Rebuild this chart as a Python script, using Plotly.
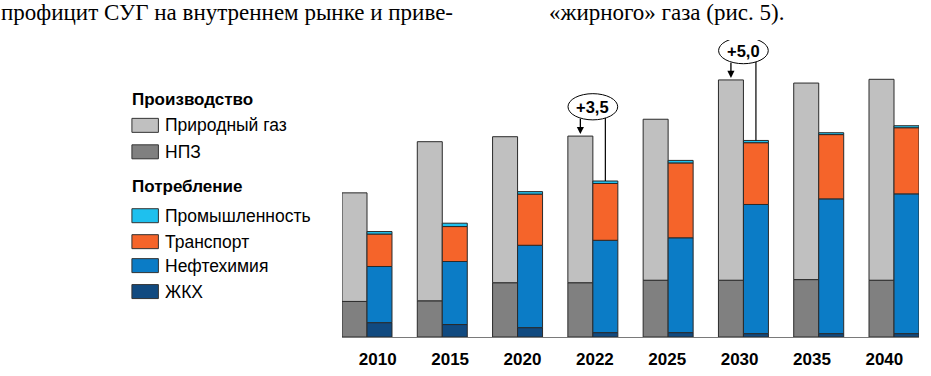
import plotly.graph_objects as go

# ---------------- data ----------------
years = ["2010", "2015", "2020", "2022", "2025", "2030", "2035", "2040"]

# Производство
natural_gas = [8.7, 12.75, 11.7, 11.75, 12.9, 16.05, 15.75, 16.1]
npz = [2.85, 2.9, 4.35, 4.35, 4.55, 4.55, 4.6, 4.55]

# Потребление
zhkh = [1.15, 1.0, 0.75, 0.35, 0.35, 0.27, 0.27, 0.27]
petrochem = [4.5, 5.05, 6.6, 7.4, 7.6, 10.35, 10.8, 11.2]
transport = [2.6, 2.8, 4.1, 4.55, 6.0, 4.95, 5.15, 5.3]
industry = [0.2, 0.27, 0.2, 0.2, 0.2, 0.18, 0.15, 0.16]

surplus_years = ["2022", "2030"]
surplus_labels = ["+3,5", "+5,0"]

top_text_left = "профицит СУГ на внутреннем рынке и приве-"
top_text_right = "«жирного» газа (рис. 5)."

# ---------------- styling ----------------
C_GAS = "#c0c0c0"
C_NPZ = "#808080"
C_IND = "#1ec0ee"
C_TRA = "#f5642a"
C_PET = "#0b7cc6"
C_ZHK = "#114a80"
OUTLINE = "#2a2a2a"
SANS = "Liberation Sans, Arial, sans-serif"
SERIF = "Liberation Serif, Times New Roman, serif"

W, H = 931, 376
L, R, T, B = 341.7, 12, 40, 38.5
PW, PH = W - L - R, H - T - B
BW = 0.332           # bar width in category units
PX_PER_UNIT = 12.5
Y_MAX = PH / PX_PER_UNIT


def px(x):
    return (x - L) / PW


def py(y):
    return (H - B - y) / PH


def cumsum(*series):
    out = [0.0] * len(series[0])
    for s in series:
        out = [a + b for a, b in zip(out, s)]
    return out


fig = go.Figure()

# production: НПЗ at bottom, природный газ on top
prod_series = [("НПЗ", npz, C_NPZ), ("Природный газ", natural_gas, C_GAS)]
cons_series = [("ЖКХ", zhkh, C_ZHK), ("Нефтехимия", petrochem, C_PET),
               ("Транспорт", transport, C_TRA), ("Промышленность", industry, C_IND)]

for group, offset in ((prod_series, -BW), (cons_series, 0.0)):
    base = [0.0] * len(years)
    for name, vals, col in group:
        fig.add_trace(go.Bar(
            x=years, y=vals, base=base, name=name, width=BW, offset=offset,
            marker=dict(color=col, line=dict(color=OUTLINE, width=1)),
            showlegend=False,
        ))
        base = [a + b for a, b in zip(base, vals)]

prod_total = cumsum(npz, natural_gas)
cons_total = cumsum(zhkh, petrochem, transport, industry)

# dummy trace so the label axis knows its categories
fig.add_trace(go.Scatter(x=years, y=[0] * len(years), xaxis="x2", mode="markers",
                         marker=dict(opacity=0), showlegend=False, hoverinfo="skip"))

shapes = []
annotations = []

# surplus call-outs
for yr, lab in zip(surplus_years, surplus_labels):
    i = years.index(yr)
    p, c = prod_total[i], cons_total[i]
    shapes.append(dict(type="line", xref="x", yref="y", x0=i + BW / 2, x1=i + BW / 2,
                       y0=c, y1=p + 2.3, line=dict(color="black", width=1.2)))
    shapes.append(dict(type="circle", xref="x", yref="y", x0=i - 0.33, x1=i + 0.33,
                       y0=p + 1.3, y1=p + 3.4, fillcolor="white",
                       line=dict(color="black", width=1)))
    annotations.append(dict(x=i - BW / 2, y=p, ax=i - BW / 2, ay=p + 1.5,
                            xref="x", yref="y", axref="x", ayref="y", text="",
                            showarrow=True, arrowhead=2, arrowsize=1.1, arrowwidth=1.3,
                            arrowcolor="black", standoff=2))
    annotations.append(dict(x=i, y=p + 2.35, xref="x", yref="y", text="<b>" + lab + "</b>",
                            showarrow=False, font=dict(family=SANS, size=16.5, color="black")))

# custom legend
legend_headers = [("Производство", 100), ("Потребление", 187)]
legend_items = [("Природный газ", C_GAS, 125.5), ("НПЗ", C_NPZ, 152),
                ("Промышленность", C_IND, 216), ("Транспорт", C_TRA, 242),
                ("Нефтехимия", C_PET, 266), ("ЖКХ", C_ZHK, 292)]
for txt, yy in legend_headers:
    annotations.append(dict(x=px(130), y=py(yy), xref="paper", yref="paper", text="<b>" + txt + "</b>",
                            xanchor="left", yanchor="middle", showarrow=False,
                            font=dict(family=SANS, size=17, color="black")))
for txt, col, yy in legend_items:
    shapes.append(dict(type="rect", xref="paper", yref="paper", x0=px(131.5), x1=px(158),
                       y0=py(yy + 7), y1=py(yy - 7), fillcolor=col,
                       line=dict(color="#333333", width=1)))
    annotations.append(dict(x=px(163), y=py(yy), xref="paper", yref="paper", text=txt,
                            xanchor="left", yanchor="middle", showarrow=False,
                            font=dict(family=SANS, size=17.5, color="black")))

# scanned page text at the top
annotations.append(dict(x=px(-1), y=py(12), xref="paper", yref="paper", text=top_text_left,
                        xanchor="left", yanchor="middle", showarrow=False,
                        font=dict(family=SERIF, size=23, color="black")))
annotations.append(dict(x=px(547), y=py(12), xref="paper", yref="paper", text=top_text_right,
                        xanchor="left", yanchor="middle", showarrow=False,
                        font=dict(family=SERIF, size=23, color="black")))

fig.update_layout(
    width=W, height=H,
    margin=dict(l=L, r=R, t=T, b=B, autoexpand=False),
    paper_bgcolor="white", plot_bgcolor="white",
    barmode="overlay",
    showlegend=False,
    xaxis=dict(type="category", categoryorder="array", categoryarray=years,
               range=[-BW, len(years) - 1 + BW], showticklabels=False, showgrid=False,
               showline=True, linecolor="#7a7a7a", linewidth=1, ticks="", zeroline=False),
    xaxis2=dict(type="category", categoryorder="array", categoryarray=years,
                overlaying="x", anchor="y", side="bottom", range=[-0.4945, 7.479],
                showgrid=False, showline=False, ticks="", zeroline=False,
                tickprefix="<b>", ticksuffix="</b>",
                tickfont=dict(family=SANS, size=17, color="black"), ticklabelstandoff=10),
    yaxis=dict(range=[0, Y_MAX], visible=False, showgrid=False, zeroline=False),
    shapes=shapes,
    annotations=annotations,
)

fig.write_html("out.html", config={"displayModeBar": False},
               post_script="document.body.style.margin='0';document.body.style.overflow='hidden';")
